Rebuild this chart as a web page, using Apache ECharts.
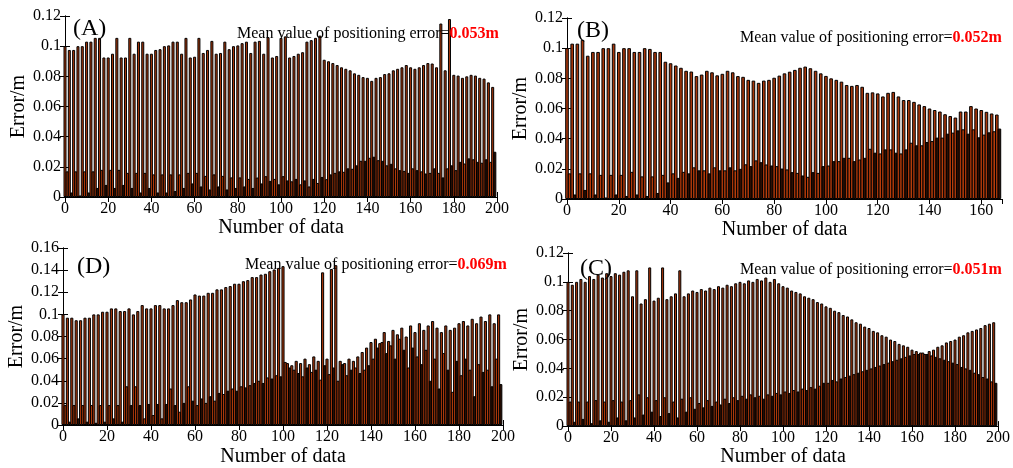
<!DOCTYPE html>
<html><head><meta charset="utf-8">
<script src="https://cdn.jsdelivr.net/npm/echarts@6/dist/echarts.min.js"></script>
<style>html,body{margin:0;padding:0;background:#fff}#c{width:1013px;height:468px}</style>
</head><body><div id="c"></div>
<script>
// ---- Data (even index = large-error samples, odd index = small-error samples) ----
const A_tall=[0.1,0.0975,0.0975,0.1,0.1,0.103,0.103,0.1055,0.1055,0.0925,0.0925,0.095,0.1055,0.0925,0.0925,0.1055,0.095,0.103,0.103,0.095,0.095,0.0975,0.098,0.1,0.1005,0.103,0.103,0.095,0.1055,0.0925,0.093,0.1055,0.0955,0.0975,0.1035,0.095,0.0955,0.103,0.098,0.1,0.1005,0.102,0.103,
0.0955,0.103,0.1035,0.095,0.106,0.0925,0.0935,0.1055,0.1065,0.0925,0.0935,0.095,0.096,0.103,0.104,0.1055,0.107,
0.091,0.09,0.0888,0.0875,0.086,0.085,0.084,0.082,0.081,0.0795,0.079,0.077,0.079,0.0795,0.0815,0.082,0.084,0.085,0.086,0.0875,0.086,0.085,0.086,0.0875,0.0888,0.0885,0.086,0.115,0.084,0.118,0.081,0.0805,0.079,0.08,0.081,0.0805,0.079,0.0785,0.076,0.073];
const A_low=[0.017,0.003,0.017,0.001,0.017,0.003,0.017,0.006,0.018,0.008,0.018,0.006,0.018,0.008,0.016,0.006,0.016,0.003,0.016,0.006,0.015,0.003,0.015,0.003,0.015,0.004,0.015,0.006,0.016,0.009,0.016,0.007,0.014,0.005,0.015,0.007,0.014,0.005,0.013,0.006,0.013,0.007,0.012,0.006,
0.0129,0.009,0.0138,0.0107,0.012,0.0084,0.0138,0.011,0.0104,0.012,0.0084,0.011,0.007,0.012,0.0093,0.0133,0.0118,0.015,0.016,0.017,0.0167,0.019,0.0187,0.021,0.024,0.024,0.026,0.0267,0.0244,0.024,0.021,0.022,0.019,0.0178,0.0173,0.016,0.019,0.0178,0.017,0.0156,0.016,0.019,0.016,0.013,0.019,0.021,0.0178,0.0233,0.0222,0.0256,0.025,0.0233,0.0227,0.025,0.0233,0.03];

const B_tall=[0.1,0.103,0.103,0.1055,0.095,0.0975,0.0975,0.1,0.1,0.103,0.0975,0.1,0.1,0.0975,0.0975,0.1,0.0995,0.0975,0.0975,0.091,0.09,0.0885,0.087,0.085,0.0845,0.0815,0.0825,0.085,0.084,0.082,0.083,0.085,0.084,0.0815,0.081,0.079,
0.0785,0.077,0.0785,0.079,0.0804,0.0818,0.0833,0.0844,0.0856,0.087,0.0878,0.0867,0.085,0.0833,0.0816,0.08,0.079,0.0778,0.0756,0.075,0.0756,0.0744,0.0704,0.0707,0.07,0.068,0.0704,0.071,0.068,0.0656,0.0656,0.0644,0.0627,0.0616,0.06,0.059,0.058,0.0562,0.055,0.054,0.058,0.058,0.0616,0.06,0.059,0.0578,0.0567,0.056];
const B_low=[0.017,0.003,0.017,0.006,0.017,0.003,0.016,0.001,0.016,0.003,0.016,0.002,0.018,0.003,0.015,0.002,0.015,0.004,0.016,0.011,0.017,0.014,0.018,0.017,0.021,0.019,0.019,0.017,0.021,0.019,0.019,0.021,0.019,0.02,0.023,
0.0218,0.0256,0.0244,0.0229,0.0222,0.0218,0.0202,0.0196,0.0178,0.0173,0.0156,0.0147,0.0178,0.0173,0.0218,0.0222,0.0251,0.0251,0.0273,0.0273,0.0251,0.0262,0.0273,0.0333,0.0307,0.0302,0.0329,0.0329,0.0307,0.0302,0.0329,0.0373,0.0356,0.0356,0.0378,0.0384,0.0407,0.0407,0.0433,0.044,0.0455,0.0462,0.0433,0.0462,0.0409,0.0427,0.0442,0.0449,0.0467];

const D_tall=[0.1,0.097,0.097,0.0947,0.0947,0.097,0.097,0.1,0.1,0.1024,0.1024,0.1054,0.1054,0.103,0.103,0.1054,0.1,0.103,0.1084,0.1054,0.1054,0.1084,0.1084,0.1054,0.1054,0.1084,0.1129,0.111,0.111,0.1135,0.118,0.117,0.117,0.1195,0.1195,0.1226,0.1226,0.1247,0.1256,0.1277,0.1277,0.13,0.131,0.1337,0.1337,0.136,0.1367,0.139,0.1406,0.142,0.1436,
0.056,0.054,0.058,0.056,0.06,0.055,0.062,0.058,0.138,0.06,0.141,0.1445,0.058,0.056,0.06,0.058,0.062,0.066,0.07,0.075,0.078,0.074,0.084,0.076,0.086,0.082,0.088,0.08,0.09,0.084,0.092,0.086,0.09,0.094,0.088,0.084,0.09,0.086,0.088,0.092,0.094,0.09,0.096,0.092,0.098,0.094,0.1,0.092,0.1];
const D_low=[0.018,0.003,0.018,0.006,0.018,0.003,0.018,0.002,0.018,0.003,0.018,0.006,0.018,0.003,0.035,0.018,0.035,0.018,0.006,0.019,0.009,0.019,0.006,0.019,0.033,0.018,0.012,0.02,0.035,0.022,0.018,0.024,0.02,0.026,0.022,0.029,0.028,0.031,0.033,0.031,0.035,0.034,0.036,0.038,0.04,0.038,0.043,0.042,0.045,0.044,
0.057,0.052,0.05,0.047,0.044,0.052,0.048,0.05,0.041,0.054,0.046,0.052,0.04,0.055,0.045,0.05,0.052,0.047,0.05,0.054,
0.06,0.07,0.075,0.065,0.072,0.06,0.078,0.068,0.052,0.07,0.062,0.055,0.068,0.04,0.06,0.033,0.065,0.05,0.03,0.058,0.045,0.06,0.05,0.026,0.055,0.048,0.05,0.035,0.06,0.037];

const C_tall=[0.1,0.098,0.1,0.102,0.1,0.104,0.102,0.105,0.103,0.106,0.104,0.106,0.105,0.107,0.108,
0.09,0.108,0.085,0.088,0.11,0.087,0.089,0.11,0.088,0.09,0.092,0.108,0.09,0.092,0.094,
0.093,0.095,0.094,0.096,0.095,0.097,0.096,0.098,0.097,0.099,0.1,0.099,0.101,0.1,0.102,0.101,0.103,0.1,0.102,0.099,
0.097,0.096,0.094,0.093,0.092,0.09,0.089,0.088,0.086,0.085,0.083,0.082,0.08,0.079,0.077,0.076,0.074,0.072,0.071,0.069,0.068,0.066,0.065,0.063,0.062,0.06,0.059,0.057,0.056,0.055,0.053,0.052,0.051,
0.05,0.052,0.053,0.055,0.056,0.058,0.059,0.06,0.062,0.063,0.065,0.066,0.067,0.068,0.07,0.071,0.072];
const C_low=[0.017,0.003,0.017,0.005,0.017,0.002,0.018,0.004,0.017,0.003,0.018,0.006,0.017,0.004,0.018,0.006,0.022,0.008,0.02,0.01,0.018,0.007,0.02,0.009,0.017,0.006,0.019,0.01,0.02,0.012,
0.016,0.013,0.018,0.014,0.017,0.015,0.019,0.016,0.02,0.018,0.021,0.019,0.022,0.02,0.021,0.019,0.022,0.021,0.023,0.022,0.024,0.023,0.025,0.024,0.026,0.025,0.027,0.026,0.028,0.03,
0.03,0.032,0.031,0.033,0.034,0.035,0.036,0.037,0.038,0.039,0.04,0.041,0.042,0.043,0.044,0.045,0.046,0.047,0.048,0.049,0.05,0.05,0.051,
0.05,0.049,0.048,0.047,0.046,0.045,0.044,0.043,0.041,0.04,0.039,0.037,0.036,0.034,0.033,0.031,0.03];

const xMaxes=[200,168,200,200];
const panelLabels=['(A)','(B)','(D)','(C)'];
const meanValues=['0.053m','0.052m','0.069m','0.051m'];
const yMaxes=[0.12,0.12,0.16,0.12];

// ---- Layout ----
const grids=[
 {left:65,top:16,width:432,height:181},
 {left:567,top:18,width:435,height:181},
 {left:63,top:248,width:440,height:181},
 {left:568,top:253,width:433,height:180}
];
const barW=[3.0,3.6,3.1,3.0];
const labelPos=[[68,12],[572,14],[72,250],[575,252]];
const meanPos=[[232,21],[735,25],[240,252],[735,257]];
const nameGapX=[18,19,22,20];
const nameGapY=[31,31,29,32];

const FONT='Liberation Serif';
const tallCol='#a8360a', lowA='#b53c0b', lowB='#2e0f03';

function build(tall,low){
  const out=[];
  const n=Math.max(tall.length,low.length);
  for(let k=0;k<n;k++){
    if(k<tall.length) out.push({value:[2*k,tall[k]],itemStyle:{color:tallCol}});
    if(k<low.length) out.push({value:[2*k+1,low[k]],itemStyle:{color:(k%2?lowB:lowA)}});
  }
  return out;
}
const datasets=[build(A_tall,A_low),build(B_tall,B_low),build(D_tall,D_low),build(C_tall,C_low)];

const xAxis=[],yAxis=[],series=[],title=[];
grids.forEach((g,i)=>{
  const base={type:'value',min:0,max:xMaxes[i],interval:20,gridIndex:i,
    axisLine:{show:true,lineStyle:{color:'#000',width:1}},
    axisTick:{show:true,inside:true,length:5,lineStyle:{color:'#000'}},
    splitLine:{show:false}};
  xAxis.push(Object.assign({},base,{position:'bottom',name:'Number of data',nameLocation:'middle',nameGap:nameGapX[i],
    nameTextStyle:{fontFamily:FONT,fontSize:20,color:'#000'},
    axisLabel:{show:true,fontFamily:FONT,fontSize:16,color:'#000',margin:4,showMaxLabel:i!==1}}));
  xAxis.push(Object.assign({},base,{position:'top',axisLabel:{show:false}}));
  const yb={type:'value',min:0,max:yMaxes[i],interval:0.02,gridIndex:i,
    axisLine:{show:true,lineStyle:{color:'#000',width:1}},
    axisTick:{show:true,inside:true,length:5,lineStyle:{color:'#000'}},
    splitLine:{show:false}};
  yAxis.push(Object.assign({},yb,{position:'left',name:'Error/m',nameLocation:'middle',nameGap:nameGapY[i],
    nameTextStyle:{fontFamily:FONT,fontSize:20,color:'#000'},
    axisLabel:{show:true,fontFamily:FONT,fontSize:16,color:'#000',margin:4}}));
  yAxis.push(Object.assign({},yb,{position:'right',axisLabel:{show:false}}));
  series.push({type:'bar',xAxisIndex:2*i,yAxisIndex:2*i,data:datasets[i],barWidth:barW[i],
    itemStyle:{borderColor:'#000',borderWidth:1},animation:false,silent:true});
  title.push({text:panelLabels[i],left:labelPos[i][0],top:labelPos[i][1],
    textStyle:{fontFamily:FONT,fontSize:24,fontWeight:'normal',color:'#000'}});
  title.push({text:'{a|Mean value of positioning error=}{b|'+meanValues[i]+'}',left:meanPos[i][0],top:meanPos[i][1],
    textStyle:{fontWeight:'normal',rich:{a:{fontFamily:FONT,fontSize:16,fontWeight:'normal',color:'#000'},b:{fontFamily:FONT,fontSize:16,color:'#ff0000',fontWeight:'bold'}}}});
});

const chart=echarts.init(document.getElementById('c'),null,{renderer:'canvas'});
chart.setOption({animation:false,backgroundColor:'#fff',title,grid:grids,xAxis,yAxis,series});
</script></body></html>
